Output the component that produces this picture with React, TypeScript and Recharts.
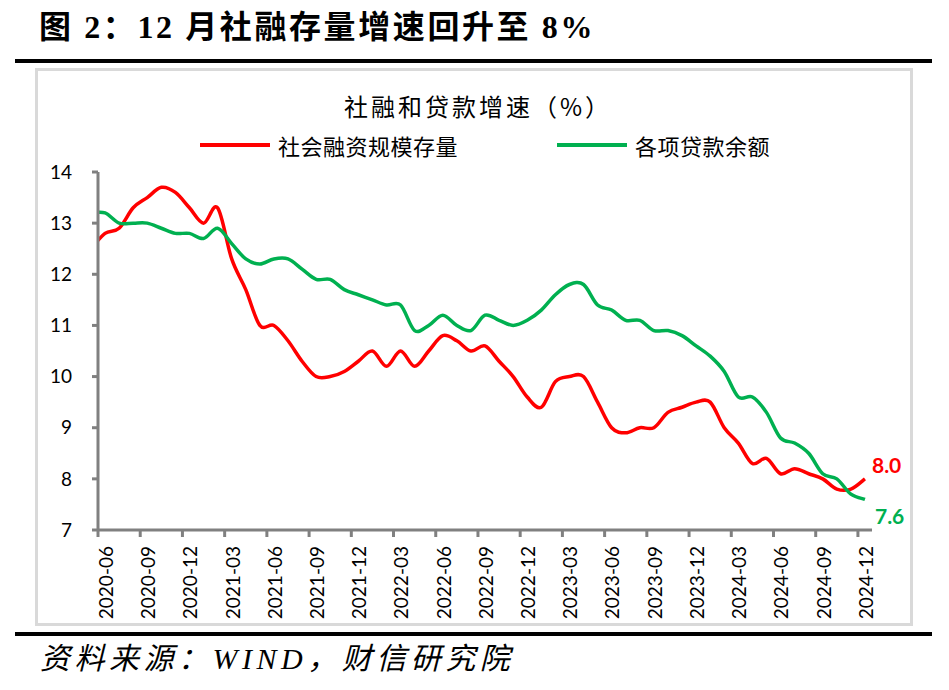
import React from 'react'
import { LineChart, Line, XAxis, YAxis } from 'recharts'

// monthly, 2020-05 .. 2024-12 (2020-05 sits left of the axis start and is clipped)
const months = [
  '2020-05', '2020-06', '2020-07', '2020-08', '2020-09', '2020-10', '2020-11', '2020-12',
  '2021-01', '2021-02', '2021-03', '2021-04', '2021-05', '2021-06', '2021-07', '2021-08',
  '2021-09', '2021-10', '2021-11', '2021-12',
  '2022-01', '2022-02', '2022-03', '2022-04', '2022-05', '2022-06', '2022-07', '2022-08',
  '2022-09', '2022-10', '2022-11', '2022-12',
  '2023-01', '2023-02', '2023-03', '2023-04', '2023-05', '2023-06', '2023-07', '2023-08',
  '2023-09', '2023-10', '2023-11', '2023-12',
  '2024-01', '2024-02', '2024-03', '2024-04', '2024-05', '2024-06', '2024-07', '2024-08',
  '2024-09', '2024-10', '2024-11', '2024-12',
]

// 社会融资规模存量增速 (%)
const tsfGrowth = [
  12.5, 12.8, 12.9, 13.3, 13.5, 13.7, 13.6, 13.3,
  13.0, 13.3, 12.3, 11.7, 11.0, 11.0, 10.7, 10.3, 10.0, 10.0, 10.1, 10.3,
  10.5, 10.2, 10.5, 10.2, 10.5, 10.8, 10.7, 10.5, 10.6, 10.3, 10.0, 9.6,
  9.4, 9.9, 10.0, 10.0, 9.5, 9.0, 8.9, 9.0, 9.0, 9.3, 9.4, 9.5,
  9.5, 9.0, 8.7, 8.3, 8.4, 8.1, 8.2, 8.1, 8.0, 7.8, 7.8, 8.0,
]

// 各项贷款余额增速 (%)
const loanGrowth = [
  13.2, 13.2, 13.0, 13.0, 13.0, 12.9, 12.8, 12.8,
  12.7, 12.9, 12.6, 12.3, 12.2, 12.3, 12.3, 12.1, 11.9, 11.9, 11.7, 11.6,
  11.5, 11.4, 11.4, 10.9, 11.0, 11.2, 11.0, 10.9, 11.2, 11.1, 11.0, 11.1,
  11.3, 11.6, 11.8, 11.8, 11.4, 11.3, 11.1, 11.1, 10.9, 10.9, 10.8, 10.6,
  10.4, 10.1, 9.6, 9.6, 9.3, 8.8, 8.7, 8.5, 8.1, 8.0, 7.7, 7.6,
]

const labelMonths = [
  '2020-06', '2020-09', '2020-12', '2021-03', '2021-06', '2021-09', '2021-12',
  '2022-03', '2022-06', '2022-09', '2022-12', '2023-03', '2023-06', '2023-09',
  '2023-12', '2024-03', '2024-06', '2024-09', '2024-12',
]

const yTicks = [7, 8, 9, 10, 11, 12, 13, 14]

const series = [
  { key: 'tsf', name: '社会融资规模存量', color: '#FF0000' },
  { key: 'loan', name: '各项贷款余额', color: '#00B050' },
]

const data = months.map((month, i) => ({
  i,
  month,
  tsf: tsfGrowth[i],
  loan: loanGrowth[i],
}))

const xTicks = labelMonths.map((m) => months.indexOf(m))

const W = 949
const H = 690
const PLOT_LEFT = 98
const PLOT_RIGHT = 872
const PLOT_TOP = 172
const PLOT_BOTTOM = 530
const HALF_STEP = (PLOT_RIGHT - PLOT_LEFT) / 55 / 2
const AXIS = '#808080'
const CJK = '"Noto Sans CJK SC", sans-serif'

// Excel-style smoothed line (uniform Catmull-Rom as cubic beziers)
function excelSmooth(context: any) {
  let pts: number[][] = []
  return {
    areaStart() {},
    areaEnd() {},
    lineStart() {
      pts = []
    },
    point(x: number, y: number) {
      pts.push([+x, +y])
    },
    lineEnd() {
      const n = pts.length
      if (!n) return
      context.moveTo(pts[0][0], pts[0][1])
      for (let k = 0; k < n - 1; k++) {
        const p0 = pts[Math.max(k - 1, 0)]
        const p1 = pts[k]
        const p2 = pts[k + 1]
        const p3 = pts[Math.min(k + 2, n - 1)]
        context.bezierCurveTo(
          p1[0] + (p2[0] - p0[0]) / 6,
          p1[1] + (p2[1] - p0[1]) / 6,
          p2[0] - (p3[0] - p1[0]) / 6,
          p2[1] - (p3[1] - p1[1]) / 6,
          p2[0],
          p2[1],
        )
      }
    },
  }
}

function MonthTick(props: any) {
  const { x, payload } = props
  return (
    <g>
      <line
        x1={x - HALF_STEP}
        x2={x - HALF_STEP}
        y1={PLOT_BOTTOM}
        y2={PLOT_BOTTOM + 7}
        stroke={AXIS}
        strokeWidth={3}
      />
      <text
        transform={`translate(${x + 1},${PLOT_BOTTOM + 16}) rotate(-90)`}
        textAnchor="end"
        dy="0.36em"
        fontFamily="Lato"
        fontSize={19}
        fill="#000"
      >
        {months[payload.value]}
      </text>
    </g>
  )
}

const endLabel = (color: string, dx: number, dy: number) => (props: any) => {
  const { x, y, index, value } = props
  if (index !== months.length - 1) return null
  return (
    <text x={x + dx} y={y + dy} fill={color} fontFamily="Lato" fontWeight={700} fontSize={21}>
      {Number(value).toFixed(1)}
    </text>
  )
}

export default function App() {
  return (
    <div
      style={{
        position: 'absolute',
        left: 0,
        top: 0,
        width: W,
        height: H,
        background: '#fff',
        overflow: 'hidden',
      }}
    >
      <div
        style={{
          position: 'absolute',
          left: 39,
          top: 9,
          fontFamily: `"Liberation Serif", ${CJK}`,
          fontWeight: 700,
          fontSize: 32,
          lineHeight: '36px',
          letterSpacing: 2.6,
          color: '#000',
          whiteSpace: 'nowrap',
        }}
      >
        图 2：12 月社融存量增速回升至 8%
      </div>
      <div style={{ position: 'absolute', left: 15, top: 59, width: 917, height: 4, background: '#000' }} />

      <div
        style={{
          position: 'absolute',
          left: 35,
          top: 68,
          width: 878,
          height: 558,
          border: '3px solid #d9d9d9',
          boxSizing: 'border-box',
        }}
      />

      <div
        style={{
          position: 'absolute',
          left: 0,
          top: 93,
          width: 956,
          textAlign: 'center',
          fontFamily: CJK,
          fontSize: 24,
          lineHeight: '26px',
          letterSpacing: 3,
          color: '#000',
        }}
      >
        社融和贷款增速（%）
      </div>

      <div
        style={{
          position: 'absolute',
          left: 200,
          top: 133,
          display: 'flex',
          alignItems: 'center',
          gap: 99,
          fontFamily: CJK,
          fontSize: 22,
          lineHeight: '24px',
          letterSpacing: 0.5,
          color: '#000',
        }}
      >
        {series.map((s) => (
          <div key={s.key} style={{ display: 'flex', alignItems: 'center', gap: 8 }}>
            <div style={{ width: 70, height: 4, background: s.color }} />
            <span>{s.name}</span>
          </div>
        ))}
      </div>

      <div style={{ position: 'absolute', left: 0, top: 0 }}>
        <LineChart
          width={W}
          height={H}
          data={data}
          margin={{ top: PLOT_TOP, right: W - PLOT_RIGHT, bottom: H - PLOT_BOTTOM - 80, left: PLOT_LEFT - 60 }}
        >
          <XAxis
            type="number"
            dataKey="i"
            domain={[0.5, 55.5]}
            allowDataOverflow
            ticks={xTicks}
            interval={0}
            tickLine={false}
            axisLine={{ stroke: AXIS, strokeWidth: 3 }}
            tick={<MonthTick />}
            height={80}
          />
          <YAxis
            type="number"
            domain={[7, 14]}
            ticks={yTicks}
            interval={0}
            width={60}
            tickSize={6}
            tickMargin={20}
            tickLine={{ stroke: AXIS, strokeWidth: 3 }}
            axisLine={{ stroke: AXIS, strokeWidth: 3 }}
            tick={{ fill: '#000', fontSize: 19, fontFamily: 'Lato' }}
          />
          <Line
            type={excelSmooth as any}
            dataKey="tsf"
            stroke="#FF0000"
            strokeWidth={3.5}
            dot={false}
            isAnimationActive={false}
            label={endLabel('#FF0000', 7, -6)}
          />
          <Line
            type={excelSmooth as any}
            dataKey="loan"
            stroke="#00B050"
            strokeWidth={3.5}
            dot={false}
            isAnimationActive={false}
            label={endLabel('#00B050', 10, 25)}
          />
        </LineChart>
      </div>

      <div
        style={{
          position: 'absolute',
          left: 15,
          top: 632,
          width: 917,
          height: 4,
          background: '#000',
        }}
      />
      <div
        style={{
          position: 'absolute',
          left: 40,
          top: 642,
          fontFamily: `"Liberation Serif", ${CJK}`,
          fontStyle: 'italic',
          fontSize: 30,
          lineHeight: '34px',
          letterSpacing: 4.5,
          color: '#000',
          whiteSpace: 'nowrap',
        }}
      >
        资料来源：WIND，财信研究院
      </div>
    </div>
  )
}
